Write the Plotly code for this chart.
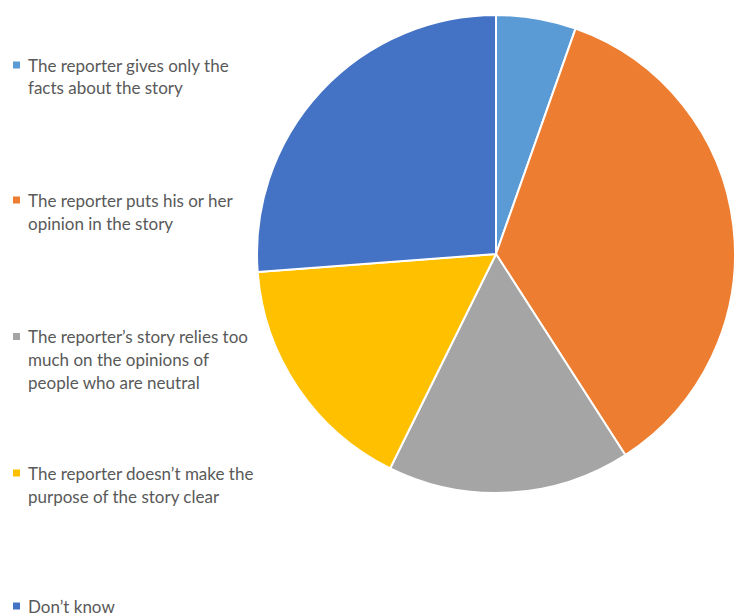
import plotly.graph_objects as go

# Survey answers and their shares (percent)
labels = [
    "The reporter gives only the<br>facts about the story",
    "The reporter puts his or her<br>opinion in the story",
    "The reporter\u2019s story relies too<br>much on the opinions of<br>people who are neutral",
    "The reporter doesn\u2019t make the<br>purpose of the story clear",
    "Don\u2019t know",
]
values = [5.4, 35.5, 16.4, 16.5, 26.2]
colors = ["#5B9BD5", "#ED7D31", "#A5A5A5", "#FFC000", "#4472C4"]

W, H = 735, 616

fig = go.Figure(
    go.Pie(
        labels=labels,
        values=values,
        sort=False,
        direction="clockwise",
        rotation=0,
        textinfo="none",
        hoverinfo="label+percent",
        marker=dict(colors=colors, line=dict(color="white", width=2)),
        domain=dict(x=[257 / W, 1.0], y=[1 - 493 / H, 1 - 15 / H]),
        showlegend=False,
    )
)

# Custom legend on the left: square swatch plus wrapped label lines
font = dict(family="Lato, Open Sans, sans-serif", size=17, color="#595959")
item_top = [65, 200, 336.5, 473, 606]
line_gap = 23
annotations = []
shapes = []
for lab, col, y0 in zip(labels, colors, item_top):
    shapes.append(dict(
        type="rect", xref="paper", yref="paper",
        x0=13 / W, x1=20 / W, y0=1 - (y0 - 3.5) / H, y1=1 - (y0 + 3.5) / H,
        fillcolor=col, line=dict(width=0),
    ))
    for i, line in enumerate(lab.split("<br>")):
        annotations.append(dict(
            text=line, xref="paper", yref="paper",
            x=27 / W, y=1 - (y0 + i * line_gap) / H,
            xanchor="left", yanchor="middle", showarrow=False,
            font=font, borderpad=0,
        ))

fig.update_layout(
    width=W, height=H,
    margin=dict(l=0, r=0, t=0, b=0),
    paper_bgcolor="white",
    plot_bgcolor="white",
    annotations=annotations,
    shapes=shapes,
)

fig.write_html("out.html")
